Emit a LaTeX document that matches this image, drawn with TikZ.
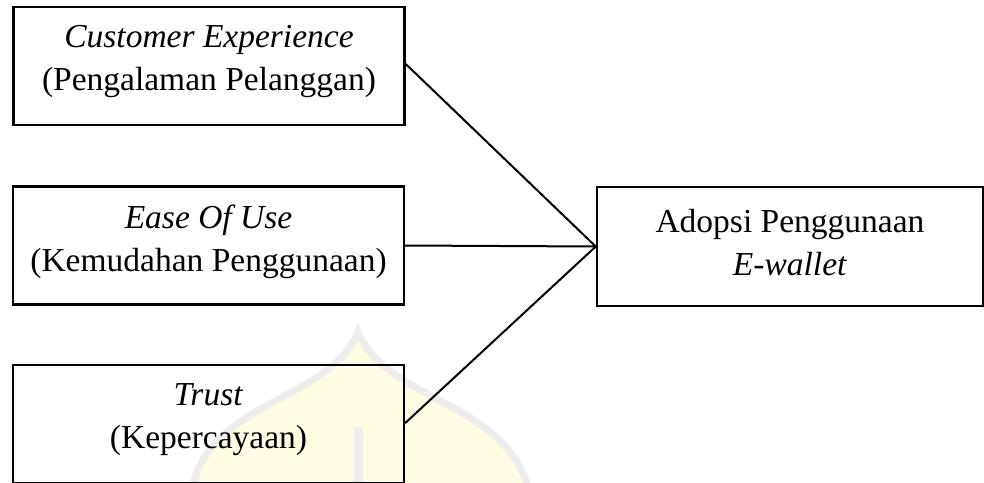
\documentclass[tikz,border=0pt]{standalone}
\usepackage{fontspec}
\setmainfont{Liberation Serif}
\definecolor{wmyellow}{HTML}{FFFCE3}
\definecolor{wmgray}{HTML}{EDEDED}
\begin{document}
\begin{tikzpicture}[x=1pt,y=-1pt,
  boxst/.style={draw=black,line width=2.5pt,rectangle,inner sep=0pt,minimum width=391pt,minimum height=118pt},
  txt/.style={align=center,inner sep=0pt,font=\fontsize{33.5}{43}\selectfont},
  conn/.style={draw=black,line width=2pt,line cap=round}]
\useasboundingbox (0,0) rectangle (984,482);
% faint watermark (background)
\fill[wmyellow] (193,484) .. controls (215,400) and (330,400) .. (358,332) .. controls (386,400) and (500,400) .. (527,484) -- cycle;
\draw[wmgray,line width=7pt] (193,484) .. controls (215,400) and (330,400) .. (358,332) .. controls (386,400) and (500,400) .. (527,484);
\fill[wmgray] (354,427) rectangle (363,484);
% boxes
\node[boxst] (ce) at (209,66) {};
\node[boxst] (eu) at (208.5,245.5) {};
\node[boxst] (tr) at (208.5,424) {};
\node[boxst,minimum width=386pt,minimum height=119pt] (ad) at (790,246.5) {};
% texts
\node[txt] (ceT) at ([yshift=4pt]ce.center) {\textit{Customer Experience}\\(Pengalaman Pelanggan)};
\node[txt] (euT) at ([yshift=4pt]eu.center) {\textit{Ease Of Use}\\(Kemudahan Penggunaan)};
\node[txt] (trT) at ([yshift=4pt]tr.center) {\textit{Trust}\\(Kepercayaan)};
\node[txt] (adT) at ([yshift=4pt]ad.center) {Adopsi Penggunaan\\\textit{E-wallet}};
% connectors
\draw[conn] ([yshift=2pt]ce.east) -- (ad.west);
\draw[conn] (eu.east) -- (ad.west);
\draw[conn] ([yshift=1pt]tr.east) -- (ad.west);
\end{tikzpicture}
\end{document}
